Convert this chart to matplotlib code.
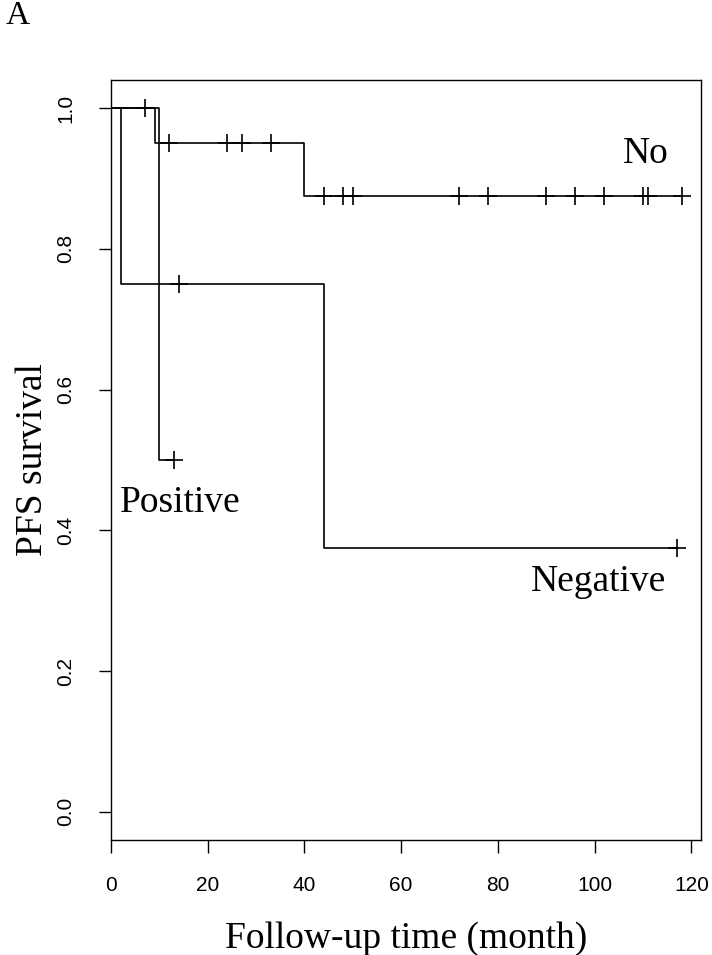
import numpy as np
import matplotlib.pyplot as plt

# step curves (time in months, survival)
no_times = [0, 9, 40]
no_surv = [1.0, 0.95, 0.875]
no_end = 118
no_censor = [7, 12, 24, 27, 33, 44, 48, 50, 72, 78, 90, 96, 102, 110, 111, 118]

pos_times = [0, 10]
pos_surv = [1.0, 0.5]
pos_end = 13
pos_censor = [13]

neg_times = [0, 2, 44]
neg_surv = [1.0, 0.75, 0.375]
neg_end = 117
neg_censor = [14, 117]

x_ticks = [0, 20, 40, 60, 80, 100, 120]
y_ticks = [0.0, 0.2, 0.4, 0.6, 0.8, 1.0]

serif = ["Liberation Serif", "DejaVu Serif"]
sans = ["Liberation Sans", "DejaVu Sans"]

fig = plt.figure(figsize=(7.12, 9.55), dpi=100)
ax = fig.add_axes([111 / 712, 1 - 840 / 955, 590 / 712, 760 / 955])


def draw_curve(times, surv, end, censor):
    xs = list(times) + [end]
    ys = list(surv) + [surv[-1]]
    ax.step(xs, ys, where="post", color="black", lw=1.2)
    idx = np.searchsorted(times, censor, side="right") - 1
    cy = np.array(surv)[idx]
    ax.plot(censor, cy, ls="none", marker="+", ms=13,
            mew=1.2, color="black")


draw_curve(no_times, no_surv, no_end, no_censor)
draw_curve(pos_times, pos_surv, pos_end, pos_censor)
draw_curve(neg_times, neg_surv, neg_end, neg_censor)

ax.text(110.5, 0.935, "No", fontsize=27, family=serif,
        ha="center", va="center")
ax.text(14.3, 0.439, "Positive", fontsize=27, family=serif,
        ha="center", va="center")
ax.text(100.8, 0.327, "Negative", fontsize=27, family=serif,
        ha="center", va="center")

ax.set_xlim(0, 122)
ax.set_ylim(-0.04, 1.04)
ax.set_xticks(x_ticks)
ax.set_yticks(y_ticks)
ax.set_xticklabels([str(v) for v in x_ticks], fontsize=15, family=sans)
ax.set_yticklabels([f"{v:.1f}" for v in y_ticks], fontsize=15,
                   family=sans, rotation=90, va="center")
ax.tick_params(direction="out", length=9, width=1, color="black", pad=17)

for sp in ax.spines.values():
    sp.set_linewidth(1)
    sp.set_color("black")

ax.set_xlabel("Follow-up time (month)", fontsize=27, family=serif,
              labelpad=19)
ax.set_ylabel("PFS survival", fontsize=27, family=serif, labelpad=4)

fig.text(18 / 712, 1 - 16 / 955, "A", fontsize=24, family=serif,
         ha="center", va="center")

fig.savefig("out.png", dpi=100)
